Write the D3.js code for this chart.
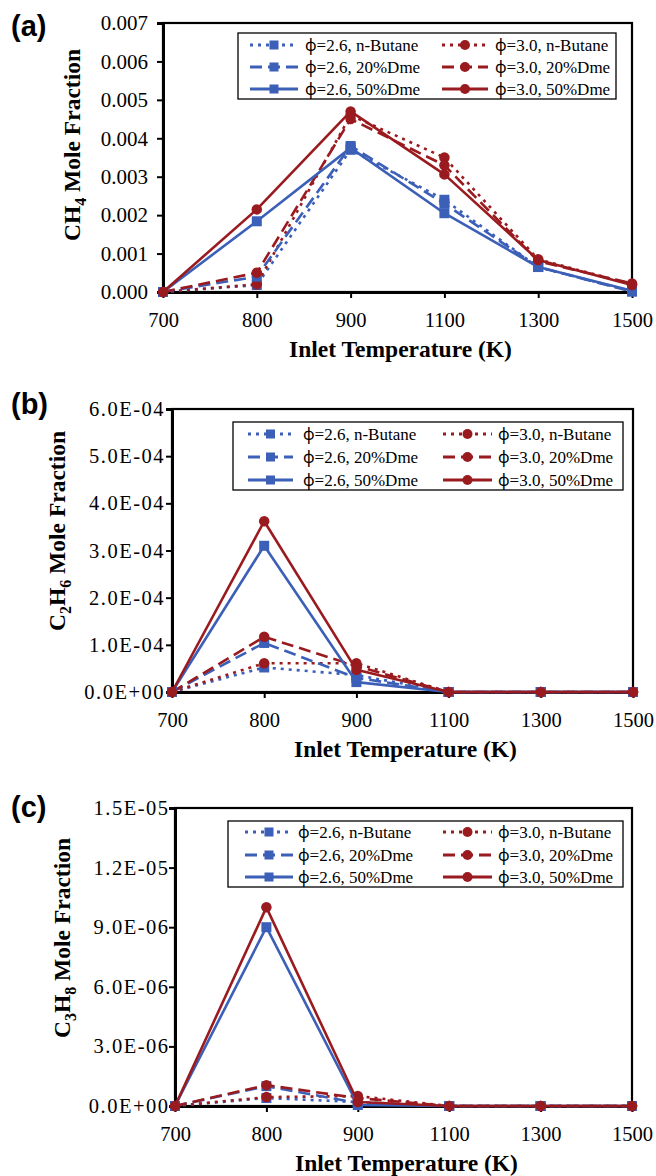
<!DOCTYPE html>
<html><head><meta charset="utf-8">
<script src="https://cdn.jsdelivr.net/npm/d3@7/dist/d3.min.js"></script>
<style>body{margin:0;background:#fff}svg{display:block}</style>
</head><body>
<svg id="chart" width="656" height="1176"></svg>
<script>
// ---- data ----
const categories = ["700","800","900","1100","1300","1500"];
const seriesNames = ["φ=2.6, n-Butane","φ=3.0, n-Butane","φ=2.6, 20%Dme","φ=3.0, 20%Dme","φ=2.6, 50%Dme","φ=3.0, 50%Dme"];

const ch4_26_nButane = [0, 0.00018, 0.0037, 0.0024, 0.00065, 0.00002];
const ch4_30_nButane = [0, 0.0002, 0.0046, 0.0035, 0.00085, 0.0002];
const ch4_26_20Dme   = [0, 0.0004, 0.0038, 0.0023, 0.00065, 0.00001];
const ch4_30_20Dme   = [0, 0.0005, 0.0045, 0.0033, 0.0008, 0.00022];
const ch4_26_50Dme   = [0, 0.00184, 0.00375, 0.00205, 0.00065, 0.00003];
const ch4_30_50Dme   = [0, 0.00215, 0.0047, 0.00306, 0.00083, 0.00018];

const c2h6_26_nButane = [0, 5.2e-5, 3.6e-5, 0, 0, 0];
const c2h6_30_nButane = [0, 6.1e-5, 6.1e-5, 0, 0, 0];
const c2h6_26_20Dme   = [0, 1.04e-4, 3.0e-5, 0, 0, 0];
const c2h6_30_20Dme   = [0, 1.17e-4, 5.5e-5, 0, 0, 0];
const c2h6_26_50Dme   = [0, 3.1e-4, 2.1e-5, 0, 0, 0];
const c2h6_30_50Dme   = [0, 3.62e-4, 4.7e-5, 0, 0, 0];

const c3h8_26_nButane = [0, 4.0e-7, 2.0e-7, 0, 0, 0];
const c3h8_30_nButane = [0, 4.5e-7, 5.0e-7, 0, 0, 0];
const c3h8_26_20Dme   = [0, 1.0e-6, 1.5e-7, 0, 0, 0];
const c3h8_30_20Dme   = [0, 1.05e-6, 4.0e-7, 0, 0, 0];
const c3h8_26_50Dme   = [0, 9.0e-6, 5.0e-8, 0, 0, 0];
const c3h8_30_50Dme   = [0, 1.0e-5, 2.0e-7, 0, 0, 0];

const yTicksA = [0, 0.001, 0.002, 0.003, 0.004, 0.005, 0.006, 0.007];
const yTicksB = [0, 1e-4, 2e-4, 3e-4, 4e-4, 5e-4, 6e-4];
const yTicksC = [0, 3e-6, 6e-6, 9e-6, 1.2e-5, 1.5e-5];
const yLabelsA = ["0.000","0.001","0.002","0.003","0.004","0.005","0.006","0.007"];
const yLabelsB = ["0.0E+00","1.0E-04","2.0E-04","3.0E-04","4.0E-04","5.0E-04","6.0E-04"];
const yLabelsC = ["0.0E+00","3.0E-06","6.0E-06","9.0E-06","1.2E-05","1.5E-05"];

// ---- styles ----
const BLUE = "#3c5fb8", RED = "#9a1b1f";
const SERIF = "Liberation Serif", SANS = "Liberation Sans";
const seriesStyle = [
  {color: BLUE, dash: "3 5", marker: "square"},
  {color: RED,  dash: "3 5", marker: "circle"},
  {color: BLUE, dash: "12 6", marker: "square"},
  {color: RED,  dash: "12 6", marker: "circle"},
  {color: BLUE, dash: null, marker: "square"},
  {color: RED,  dash: null, marker: "circle"}
];

const panels = [
  {label: "(a)", lx: 11, ly: 36, left: 163, right: 632, top: 23, bottom: 292, yMax: 0.007,
   ticks: yTicksA, labels: yLabelsA, tickRight: 148, tickFont: 21, ySpacing: 0,
   data: [ch4_26_nButane, ch4_30_nButane, ch4_26_20Dme, ch4_30_20Dme, ch4_26_50Dme, ch4_30_50Dme],
   ytitle: [["CH", 0], ["4", 1], [" Mole Fraction", 0]], ytx: 80, yty: 145,
   leg: {x: 238, y: 33, w: 378, h: 66, rows: [12, 34, 56], cols: [[12, 60, 67], [204, 250, 257]]}},
  {label: "(b)", lx: 11, ly: 414, left: 172, right: 633, top: 409, bottom: 692, yMax: 6e-4,
   ticks: yTicksB, labels: yLabelsB, tickRight: 165, tickFont: 20.5, ySpacing: 1.5,
   data: [c2h6_26_nButane, c2h6_30_nButane, c2h6_26_20Dme, c2h6_30_20Dme, c2h6_26_50Dme, c2h6_30_50Dme],
   ytitle: [["C", 0], ["2", 1], ["H", 0], ["6", 1], [" Mole Fraction", 0]], ytx: 65, yty: 531,
   leg: {x: 233, y: 422, w: 390, h: 68, rows: [12, 35, 58], cols: [[15, 60, 70], [210, 259, 265]]}},
  {label: "(c)", lx: 11, ly: 817, left: 175, right: 632, top: 808, bottom: 1106, yMax: 1.5e-5,
   ticks: yTicksC, labels: yLabelsC, tickRight: 169.5, tickFont: 20.5, ySpacing: 1.5,
   data: [c3h8_26_nButane, c3h8_30_nButane, c3h8_26_20Dme, c3h8_30_20Dme, c3h8_26_50Dme, c3h8_30_50Dme],
   ytitle: [["C", 0], ["3", 1], ["H", 0], ["8", 1], [" Mole Fraction", 0]], ytx: 70, yty: 938,
   leg: {x: 228, y: 821, w: 395, h: 66, rows: [11, 34, 56], cols: [[17, 65, 70], [215, 264, 270]]}}
];

const svg = d3.select("#chart");

function drawMarker(g, type, x, y, color, size) {
  if (type === "square") {
    g.append("rect").attr("x", x - size / 2).attr("y", y - size / 2)
      .attr("width", size).attr("height", size).attr("fill", color);
  } else {
    g.append("circle").attr("cx", x).attr("cy", y).attr("r", size / 2).attr("fill", color);
  }
}

panels.forEach(p => {
  const g = svg.append("g");
  const x = d3.scalePoint().domain(categories).range([p.left, p.right]);
  const y = d3.scaleLinear().domain([0, p.yMax]).range([p.bottom, p.top]);

  // panel label
  g.append("text").attr("x", p.lx).attr("y", p.ly).text(p.label)
    .style("font-family", SANS).style("font-weight", "bold").style("font-size", "29px").attr("fill", "#000");

  // frame
  g.append("rect").attr("x", p.left).attr("y", p.top)
    .attr("width", p.right - p.left).attr("height", p.bottom - p.top)
    .attr("fill", "none").attr("stroke", "#000").attr("stroke-width", 2.2);

  // y axis
  const yAxis = d3.axisLeft(y).tickValues(p.ticks).tickSize(6).tickPadding(p.left - 6 - p.tickRight)
    .tickFormat((d, i) => p.labels[i]);
  const ya = g.append("g").attr("transform", `translate(${p.left},0)`).call(yAxis);
  ya.select(".domain").attr("stroke", "#000").attr("stroke-width", 3);
  ya.selectAll(".tick line").attr("stroke", "#000").attr("stroke-width", 2);
  ya.selectAll("text").style("font-family", SERIF).style("font-size", p.tickFont + "px")
    .style("letter-spacing", p.ySpacing + "px").attr("fill", "#000");

  // x axis
  const xAxis = d3.axisBottom(x).tickSize(6).tickPadding(14).tickSizeOuter(0);
  const xa = g.append("g").attr("transform", `translate(0,${p.bottom})`).call(xAxis);
  xa.select(".domain").attr("stroke", "#000").attr("stroke-width", 3);
  xa.selectAll(".tick line").attr("stroke", "#000").attr("stroke-width", 2);
  xa.selectAll("text").style("font-family", SERIF).style("font-size", "20.5px").attr("fill", "#000");

  // x title
  g.append("text").attr("x", (p.left + p.right) / 2 + 3).attr("y", p.bottom + 65)
    .attr("text-anchor", "middle").style("font-family", SERIF).style("font-weight", "bold")
    .style("font-size", "23.5px").attr("fill", "#000").text("Inlet Temperature (K)");

  // y title
  const yt = g.append("text").attr("transform", `translate(${p.ytx},${p.yty}) rotate(-90)`)
    .attr("text-anchor", "middle").style("font-family", SERIF).style("font-weight", "bold")
    .style("font-size", "23.5px").attr("fill", "#000");
  p.ytitle.forEach(([t, sub], i) => {
    const ts = yt.append("tspan").text(t);
    if (sub) ts.style("font-size", "16px").attr("dy", 6);
    else if (i > 0 && p.ytitle[i - 1][1]) ts.attr("dy", -6);
  });

  // series
  const line = d3.line().x((d, i) => x(categories[i])).y(d => y(d));
  p.data.forEach((vals, si) => {
    const st = seriesStyle[si];
    const sg = g.append("g");
    sg.append("path").datum(vals).attr("d", line).attr("fill", "none")
      .attr("stroke", st.color).attr("stroke-width", 2.6)
      .attr("stroke-dasharray", st.dash).attr("stroke-linejoin", "round");
    vals.forEach((v, i) => drawMarker(sg, st.marker, x(categories[i]), y(v), st.color, st.marker === "square" ? 10 : 10.5));
  });

  // legend
  const L = p.leg;
  const lg = g.append("g").attr("transform", `translate(${L.x},${L.y})`);
  lg.append("rect").attr("width", L.w).attr("height", L.h).attr("fill", "#fff")
    .attr("stroke", "#000").attr("stroke-width", 1.3);
  seriesNames.forEach((name, si) => {
    const col = si % 2, row = Math.floor(si / 2);
    const st = seriesStyle[si];
    const [s0, s1, tx] = L.cols[col];
    const ry = L.rows[row];
    lg.append("line").attr("x1", s0).attr("x2", s1).attr("y1", ry).attr("y2", ry)
      .attr("stroke", st.color).attr("stroke-width", 3).attr("stroke-dasharray", st.dash);
    drawMarker(lg, st.marker, (s0 + s1) / 2, ry, st.color, st.marker === "square" ? 9 : 10);
    const t = lg.append("text").attr("x", tx).attr("y", ry + 6)
      .style("font-family", SERIF).style("font-size", "17px").attr("fill", "#000");
    t.append("tspan").style("font-family", "Noto Sans").style("font-size", "16px").text(name.slice(0, 1));
    t.append("tspan").text(name.slice(1));
  });
});
</script>
</body></html>
